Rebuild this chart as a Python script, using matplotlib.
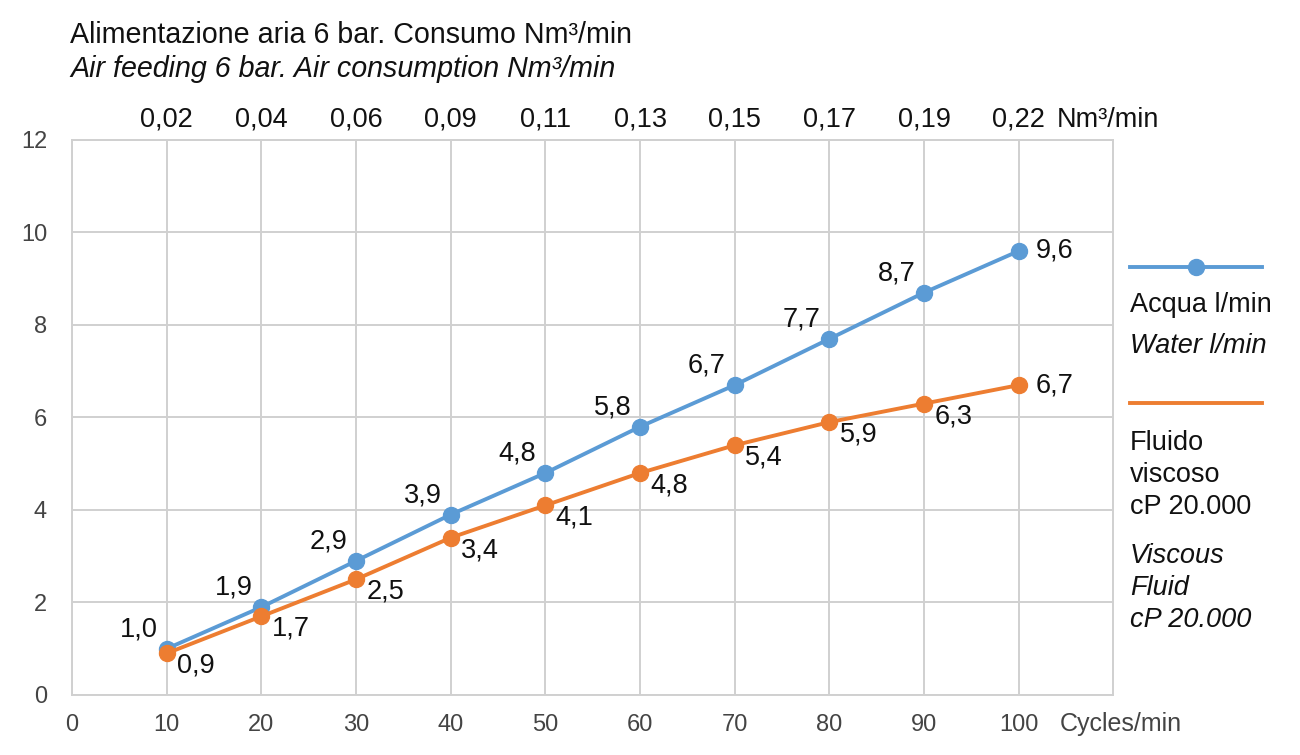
import matplotlib.pyplot as plt
from matplotlib.transforms import blended_transform_factory

plt.rcParams['font.family'] = ['Liberation Sans', 'DejaVu Sans']

# Data
cycles = [10, 20, 30, 40, 50, 60, 70, 80, 90, 100]
water = [1.0, 1.9, 2.9, 3.9, 4.8, 5.8, 6.7, 7.7, 8.7, 9.6]
viscous = [0.9, 1.7, 2.5, 3.4, 4.1, 4.8, 5.4, 5.9, 6.3, 6.7]
air = ['0,02', '0,04', '0,06', '0,09', '0,11', '0,13', '0,15', '0,17', '0,19', '0,22']

blue = '#5b9bd5'
orange = '#ed7d31'
grid_c = '#d0d0d0'
fs = 19.5

fig = plt.figure(figsize=(13, 7.55), dpi=100)
ax = fig.add_axes([0.0554, 0.0795, 0.8011, 0.7351])

ax.plot(cycles, water, color=blue, lw=2.8, marker='o', ms=11.5, zorder=3)
ax.plot(cycles, viscous, color=orange, lw=2.8, marker='o', ms=11.5, zorder=4)

ax.set_xlim(0, 110)
ax.set_ylim(0, 12)
ax.set_xticks(range(0, 101, 10))
ax.set_yticks(range(0, 13, 2))
ax.grid(True, color=grid_c, lw=1.4)
ax.set_axisbelow(True)
for s in ax.spines.values():
    s.set_color(grid_c)
    s.set_linewidth(1.4)
ax.tick_params(length=0, labelsize=17, colors='#444444')
ax.tick_params(axis='x', pad=14)
ax.tick_params(axis='y', pad=18)

# data labels
def fmt(v):
    return f'{v:.1f}'.replace('.', ',')

for x, y in zip(cycles, water):
    if x == 100:
        off, ha = (12, 0), 'left'
    else:
        off, ha = (-20, 14), 'center'
    ax.annotate(fmt(y), (x, y), xytext=off, textcoords='offset points',
                ha=ha, va='center', fontsize=fs, color='#111111')
for x, y in zip(cycles, viscous):
    if x == 100:
        off, ha = (12, 0), 'left'
    else:
        off, ha = (21, -9), 'center'
    ax.annotate(fmt(y), (x, y), xytext=off, textcoords='offset points',
                ha=ha, va='center', fontsize=fs, color='#111111')

# top axis labels (air consumption)
tr = blended_transform_factory(ax.transData, fig.transFigure)
for x, lab in zip(cycles, air):
    fig.text(x, 1 - 120 / 755, lab, transform=tr, ha='center', va='center',
             fontsize=fs, color='#111111')
fig.text(1057 / 1300, 1 - 120 / 755, 'Nm³/min', ha='left', va='center',
         fontsize=fs, color='#111111')
fig.text(1060 / 1300, 1 - 724 / 755, 'Cycles/min', ha='left', va='center',
         fontsize=18, color='#444444')

# titles
fig.text(70 / 1300, 1 - 35 / 755, 'Alimentazione aria 6 bar. Consumo Nm³/min',
         ha='left', va='center', fontsize=20.6, color='#111111')
fig.text(70 / 1300, 1 - 69 / 755, 'Air feeding 6 bar. Air consumption Nm³/min',
         ha='left', va='center', fontsize=20.6, style='italic', color='#111111')

# legend drawn by hand
lx0, lx1 = 1130 / 1300, 1262 / 1300
fig.add_artist(plt.Line2D([lx0, lx1], [1 - 267 / 755] * 2, color=blue, lw=2.8,
                          transform=fig.transFigure))
fig.add_artist(plt.Line2D([(lx0 + lx1) / 2], [1 - 267 / 755], color=blue,
                          marker='o', ms=11.5, transform=fig.transFigure))
fig.add_artist(plt.Line2D([lx0, lx1], [1 - 403 / 755] * 2, color=orange, lw=2.8,
                          transform=fig.transFigure))
fig.text(lx0, 1 - 305 / 755, 'Acqua l/min', ha='left', va='center',
         fontsize=fs, color='#111111')
fig.text(lx0, 1 - 346 / 755, 'Water l/min', ha='left', va='center',
         fontsize=fs, style='italic', color='#111111')
fig.text(lx0, 1 - 475 / 755, 'Fluido\nviscoso\ncP 20.000', ha='left', va='center',
         fontsize=fs, color='#111111', linespacing=1.28)
fig.text(lx0, 1 - 588 / 755, 'Viscous\nFluid\ncP 20.000', ha='left', va='center',
         fontsize=fs, style='italic', color='#111111', linespacing=1.28)

fig.savefig('out.png', dpi=100)
